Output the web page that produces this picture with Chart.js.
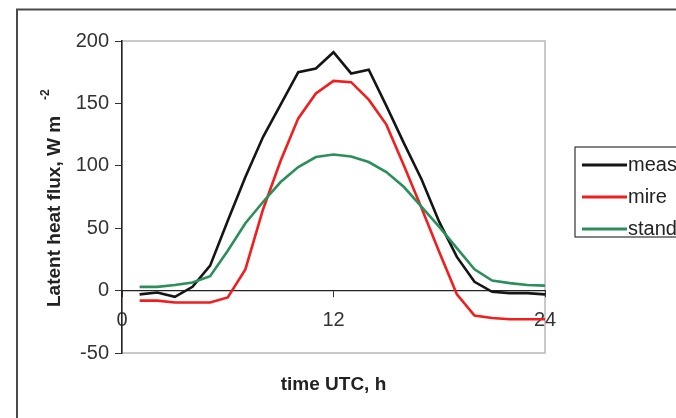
<!DOCTYPE html>
<html>
<head>
<meta charset="utf-8">
<script src="https://cdn.jsdelivr.net/npm/chart.js@4/dist/chart.umd.min.js"></script>
<style>
  html, body { margin: 0; padding: 0; background: #fff; overflow: hidden; }
  #wrap { position: relative; width: 676px; height: 418px; }
</style>
</head>
<body>
<div id="wrap"><canvas id="fluxChart" width="676" height="418"></canvas></div>
<script>
// hours of the day (UTC)
const hours = [1, 2, 3, 4, 5, 6, 7, 8, 9, 10, 11, 12, 13, 14, 15, 16, 17, 18, 19, 20, 21, 22, 23, 24];

// latent heat flux, W m-2
const measured = [-3, -1.5, -5, 3, 20, 56, 91, 123, 149, 175, 178, 191, 174, 177, 148, 118, 89, 55, 27, 7, -1, -2, -2, -3];
const mire = [-8, -8, -9.5, -9.5, -9.5, -5.5, 17, 65, 104, 138, 158, 168, 167, 153, 133, 100, 66, 31, -3, -20, -22, -23, -23, -23];
const stand = [3, 3, 4.5, 6.5, 11.5, 32, 54, 71, 87, 99, 107, 109, 107.5, 103, 95, 83, 67, 51, 34, 17, 8, 6, 4.5, 4];

const seriesNames = ['measured', 'mire', 'stand'];
const xTicks = [0, 12, 24];
const yTicks = [-50, 0, 50, 100, 150, 200];

const toPoints = (vals) => hours.map((h, i) => ({ x: h, y: vals[i] }));

// рамка, серая рамка графика, подписи осей и легенда
const decorPlugin = {
    id: 'decor',
    beforeDraw(chart) {
        const ctx = chart.ctx;
        const a = chart.chartArea;
        ctx.save();
        ctx.strokeStyle = '#4a4a4a';
        ctx.lineWidth = 2;
        ctx.strokeRect(17, 9.5, 900, 900);
        ctx.strokeStyle = '#b8b8b8';
        ctx.lineWidth = 1.5;
        ctx.strokeRect(a.left, a.top, a.right - a.left, a.bottom - a.top);
        ctx.restore();
    },
    afterDraw(chart) {
        const ctx = chart.ctx;
        const a = chart.chartArea;
        ctx.save();
        ctx.fillStyle = '#222';

        // x title
        ctx.font = 'bold 19px "Liberation Sans", Arial, sans-serif';
        ctx.textAlign = 'center';
        ctx.textBaseline = 'middle';
        ctx.fillText('time UTC, h', (a.left + a.right) / 2, 385);

        // y title with superscript
        ctx.translate(55, 307);
        ctx.rotate(-Math.PI / 2);
        ctx.textAlign = 'left';
        ctx.font = 'bold 19px "Liberation Sans", Arial, sans-serif';
        const main = 'Latent heat flux, W m';
        ctx.fillText(main, 0, 0);
        const w = ctx.measureText(main).width;
        ctx.font = 'bold 12px "Liberation Sans", Arial, sans-serif';
        ctx.fillText('-2', w + 16, -9);
        ctx.restore();

        // legend
        ctx.save();
        const lx = 575, ly = 147, lh = 90;
        ctx.strokeStyle = '#333';
        ctx.lineWidth = 1.2;
        ctx.strokeRect(lx, ly, 200, lh);
        ctx.font = '20px "Liberation Sans", Arial, sans-serif';
        ctx.textAlign = 'left';
        ctx.textBaseline = 'middle';
        chart.data.datasets.forEach((ds, i) => {
            const y = 165 + i * 32;
            ctx.strokeStyle = ds.borderColor;
            ctx.lineWidth = 3;
            ctx.beginPath();
            ctx.moveTo(582, y);
            ctx.lineTo(627, y);
            ctx.stroke();
            ctx.fillStyle = '#222';
            ctx.fillText(ds.label, 628, y);
        });
        ctx.restore();
    }
};

const tickFont = { family: '"Liberation Sans", Arial, sans-serif', size: 20 };

new Chart(document.getElementById('fluxChart'), {
    type: 'line',
    data: {
        datasets: [
            { label: seriesNames[0], data: toPoints(measured), borderColor: '#151515', order: 2 },
            { label: seriesNames[1], data: toPoints(mire), borderColor: '#f21d1d', order: 1 },
            { label: seriesNames[2], data: toPoints(stand), borderColor: '#2b8f5c', order: 0 }
        ]
    },
    options: {
        responsive: false,
        animation: false,
        devicePixelRatio: 1,
        layout: { padding: { left: 0, top: 41, right: 131, bottom: 65 } },
        elements: {
            line: { borderWidth: 2.6, tension: 0, fill: false },
            point: { radius: 0 }
        },
        plugins: {
            legend: { display: false },
            tooltip: { enabled: false }
        },
        scales: {
            x: {
                type: 'linear',
                min: 0,
                max: 24,
                position: { y: 0 },
                afterFit: (s) => { s.height = 0; },
                afterBuildTicks: (s) => { s.ticks = xTicks.map(v => ({ value: v })); },
                grid: { drawOnChartArea: false, tickLength: 6, color: '#333' },
                border: { color: '#222', width: 1.2 },
                ticks: { font: tickFont, color: '#333', padding: 12, maxRotation: 0, autoSkip: false }
            },
            y: {
                min: -50,
                max: 200,
                afterFit: (s) => { s.width = 122; },
                afterBuildTicks: (s) => { s.ticks = yTicks.map(v => ({ value: v })); },
                grid: { drawOnChartArea: false, tickLength: 7, color: '#333' },
                border: { color: '#222', width: 1.5 },
                ticks: { font: tickFont, color: '#333', padding: 6 }
            }
        }
    },
    plugins: [decorPlugin]
});
</script>
</body>
</html>
